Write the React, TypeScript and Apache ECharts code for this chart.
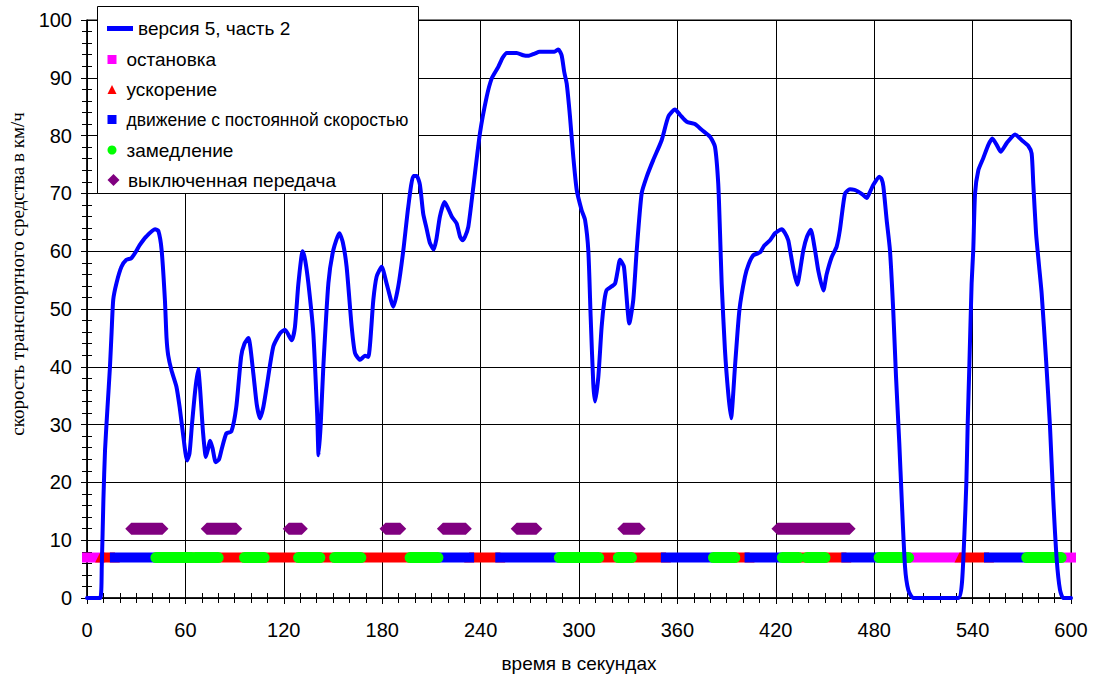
import React, { useEffect, useRef } from 'react';
import * as echarts from 'echarts';

// ---- data ----
const X_MIN = 0;
const X_MAX = 600;
const X_STEP = 60;
const Y_MIN = 0;
const Y_MAX = 100;
const Y_STEP = 10;

const SERIES_SPEED = 'версия 5, часть 2';
const SERIES_STOP = 'остановка';
const SERIES_ACCEL = 'ускорение';
const SERIES_CONST = 'движение с постоянной скоростью';
const SERIES_DECEL = 'замедление';
const SERIES_OFFGEAR = 'выключенная передача';

const X_NAME = 'время в секундах';
const Y_NAME = 'скорость транспортного средства в км/ч';

// [time s, speed km/h]
const SPEED_POINTS: [number, number][] = [
  [0, 0], [8, 0], [9, 5.4], [10, 17], [11, 25.6], [12.5, 33], [14, 40], [15, 46], [16, 51.6], [18, 54.5],
  [21, 57.3], [24, 58.5], [27, 58.8], [30, 60], [32, 61], [36, 62.5], [41.5, 63.8], [43.5, 63.5], [45.5, 60.2],
  [47.5, 51.6], [48.5, 45], [49.5, 42], [51.5, 39.4], [54.5, 36.6], [56.5, 33], [58.5, 28.5], [61, 23.8],
  [62.5, 25], [64, 30], [66, 36], [67.8, 39.6], [69, 36], [70.8, 28.5], [72.5, 24.4], [74, 26], [75, 27.2],
  [76.5, 26], [78.5, 23.5], [80.5, 24], [82, 25.6], [85, 28.5], [88, 28.8], [91, 33], [94, 41.8], [96, 44],
  [98.4, 45], [101.4, 38.9], [103.5, 33.5], [105.5, 31.1], [107.5, 33], [109.6, 36.6], [113.6, 43.5],
  [117.7, 45.8], [120.7, 46.4], [124.8, 44.6], [126.8, 46.9], [128.9, 54.4], [131.5, 60], [133, 58.5],
  [135, 54.4], [138, 45.8], [140.4, 31.4], [141.2, 24.7], [142.5, 30], [144.1, 40], [147.2, 54.5],
  [150.2, 60.2], [153.9, 63.1], [156, 61.5], [158.3, 57.3], [161.4, 46.9], [163.4, 42.4], [166.5, 41.2],
  [169.5, 41.9], [171.5, 41.7], [174.6, 51.6], [176.6, 55.6], [179.7, 57.3], [182.7, 54.4], [186.8, 50.4],
  [189.8, 53.9], [192.9, 60.2], [195.9, 67.7], [199, 73], [201, 73], [203, 71.5], [205, 66.5], [207, 64],
  [209, 61.5], [211.4, 60.3], [213, 62], [215.2, 66], [218, 68.5], [220, 67.5], [222.4, 66], [225.4, 64.8],
  [227.5, 62.5], [229, 61.9], [230.5, 62.5], [232.5, 64.2], [235.6, 71.2], [239.6, 80.4], [243.7, 86.7],
  [246.8, 89.9], [250.8, 91.9], [253.5, 93.5], [256, 94.3], [262, 94.3], [266, 93.9], [269, 93.8],
  [273, 94.2], [276, 94.5], [282, 94.5], [285, 94.5], [287.4, 94.9], [289.4, 93.9], [291, 91], [292.5, 89],
  [294.5, 83.3], [296.5, 76.4], [298.6, 70.6], [301.6, 67.1], [303.7, 65.4], [305.7, 60], [307.1, 48.7],
  [308.7, 37.1], [309.8, 34], [311.8, 38.3], [313.8, 46.9], [315.5, 51.5], [316.9, 53.3], [319.9, 53.9],
  [322, 54.4], [323.5, 56.5], [325, 58.5], [327.4, 57.3], [330.7, 47.5], [333.1, 51.6], [335.2, 60.2],
  [338.2, 70], [341.3, 72.9], [345.3, 75.8], [350.4, 79.2], [354.5, 83.3], [358.5, 84.5], [361.6, 83.6],
  [365.7, 82.4], [370.7, 82], [374.8, 81], [379.9, 79.8], [382.9, 78.1], [384.9, 71.7], [386, 63.1],
  [387, 54.4], [389, 42.9], [391, 35.4], [392.7, 31.1], [395.1, 40], [397.8, 49.8], [401.2, 55.6],
  [403.5, 57.8], [406.3, 59.3], [410.4, 59.8], [413, 61], [416.5, 61.9], [419.5, 63.1], [423.6, 63.8],
  [425.5, 63.2], [427.6, 61.9], [428.7, 60.2], [431, 56.5], [433.1, 54.2], [435, 57], [436.8, 60.2],
  [439, 62.5], [441.3, 63.7], [443.9, 60.2], [446, 56.5], [449, 53.2], [451, 56], [454.1, 59], [457.1, 60.8],
  [459.1, 63.7], [462.2, 70], [465.2, 70.7], [468, 70.6], [470.3, 70.3], [473, 69.8], [475.4, 69.2],
  [477, 70], [479.5, 71.5], [483.1, 72.9], [484.5, 72.5], [485.6, 71.2], [487.6, 65.4], [489.6, 60.2],
  [491.6, 49.8], [493.3, 38.3], [495.3, 26.8], [496.8, 17], [498.8, 5.4], [500.8, 1.4], [503.9, 0],
  [531.3, 0], [533.5, 2.6], [535, 11], [536.2, 20], [537, 30], [538, 40], [539.4, 54.4], [540.4, 60.2],
  [541.5, 70], [543.5, 74], [546.5, 76.1], [549.6, 78.4], [552, 79.5], [554.7, 78.4], [557.1, 77.2],
  [560.8, 78.7], [565.9, 80.2], [570, 79.2], [574, 78.2], [576, 76.9], [577, 71.7], [578.7, 63.1],
  [580.5, 57.5], [582.1, 52.7], [584.8, 41.2], [587.2, 29.6], [589.2, 17], [591.3, 6.6], [593.3, 1.4],
  [595.3, 0], [600, 0],
];

// phase rows (level on the speed axis where the phase marks are drawn)
const PHASE_ROW = 7;
const OFFGEAR_ROW = 12;

// [start s, end s]
const STOP_INTERVALS: [number, number][] = [[0, 8], [500, 532], [594, 600]];
const ACCEL_INTERVALS: [number, number][] = [
  [8, 17], [64, 66], [80, 96], [108, 129], [142, 151], [167, 197], [233, 252], [312, 324], [332, 353],
  [395, 404], [434, 439], [450, 463], [532, 550],
];
const CONST_INTERVALS: [number, number][] = [
  [17, 42], [214, 233], [252, 288], [353, 382], [404, 424], [463, 483], [550, 573],
];
const DECEL_INTERVALS: [number, number][] = [
  [42, 64], [66, 80], [96, 108], [129, 142], [151, 167], [197, 214], [288, 312], [324, 332], [382, 395],
  [424, 434], [439, 450], [483, 501], [573, 594],
];
const OFFGEAR_INTERVALS: [number, number][] = [
  [27, 46], [73, 91], [123, 131], [182, 191], [217, 231], [262, 274], [327, 337], [421, 465],
];

const COLORS = {
  speed: '#0000FF',
  stop: '#FF00FF',
  accel: '#FF0000',
  constant: '#0000FF',
  decel: '#00FF00',
  offgear: '#800080',
};

const SANS = "'Liberation Sans', Arial, sans-serif";
const SERIF = "'Liberation Serif', 'Times New Roman', serif";

type Cap = 'square' | 'round' | 'triangle' | 'hex';

function phaseSeries(name: string, color: string, intervals: [number, number][], row: number, cap: Cap, half: number) {
  return {
    type: 'custom',
    name,
    data: intervals.map(([a, b]) => [a, b, row]),
    encode: { x: [0, 1], y: 2 },
    itemStyle: { color },
    silent: true,
    renderItem: (_params: any, api: any) => {
      const s = api.coord([api.value(0), api.value(2)]);
      const e = api.coord([api.value(1), api.value(2)]);
      const x1 = s[0];
      const x2 = e[0];
      const y = s[1];
      const h = half;
      if (cap === 'triangle') {
        return {
          type: 'polygon',
          shape: { points: [[x1 - h, y + h], [x1, y - h], [x2, y - h], [x2 + h, y + h]] },
          style: { fill: color },
        };
      }
      if (cap === 'hex') {
        return {
          type: 'polygon',
          shape: { points: [[x1 - h, y], [x1, y - h], [x2, y - h], [x2 + h, y], [x2, y + h], [x1, y + h]] },
          style: { fill: color },
        };
      }
      return {
        type: 'rect',
        shape: { x: x1 - h, y: y - h, width: x2 - x1 + 2 * h, height: 2 * h, r: cap === 'round' ? h : 0 },
        style: { fill: color },
      };
    },
  };
}

const LINE_ICON = 'path://M0,0L26,0L26,5L0,5Z';
const SQUARE_ICON = 'path://M0,0L10,0L10,10L0,10Z';
const TRIANGLE_ICON = 'path://M5,0L10,10L0,10Z';
const DIAMOND_ICON = 'path://M6,0L12,6L6,12L0,6Z';

function legendItem(name: string, top: number, left: number, itemWidth: number, itemHeight: number, icon?: string, fontSize = 19) {
  const d: any = { name };
  if (icon) d.icon = icon;
  return {
    data: [d],
    left,
    top,
    padding: 0,
    itemWidth,
    itemHeight,
    selectedMode: false,
    textStyle: { fontFamily: SANS, fontSize, color: '#000' },
  };
}

export default function App() {
  const ref = useRef<HTMLDivElement>(null);

  useEffect(() => {
    if (!ref.current) return;
    const chart = echarts.init(ref.current, undefined, { renderer: 'svg' });

    const axisBase = {
      type: 'value',
      gridIndex: 0,
    };

    const option: any = {
      animation: false,
      backgroundColor: '#fff',
      grid: {
        left: 87,
        top: 20,
        width: 984,
        height: 578,
        show: true,
        borderColor: '#000',
        borderWidth: 1,
        backgroundColor: 'transparent',
      },
      xAxis: [
        {
          ...axisBase,
          min: X_MIN,
          max: X_MAX,
          interval: X_STEP,
          position: 'bottom',
          name: X_NAME,
          nameLocation: 'middle',
          nameGap: 56,
          nameTextStyle: { fontFamily: SANS, fontSize: 19, color: '#000' },
          axisLine: { show: true, onZero: false, lineStyle: { color: '#000', width: 1.5 } },
          axisTick: { show: true, length: 6, lineStyle: { color: '#000', width: 1 } },
          minorTick: { show: true, splitNumber: 6, length: 5, lineStyle: { color: '#000', width: 1 } },
          axisLabel: { fontFamily: SANS, fontSize: 20, color: '#000', margin: 22 },
          splitLine: { show: true, lineStyle: { color: '#000', width: 1 } },
        },
        {
          ...axisBase,
          min: X_MIN,
          max: X_MAX,
          interval: X_STEP,
          position: 'bottom',
          axisLine: { show: false },
          axisTick: { show: true, inside: true, length: 6, lineStyle: { color: '#000', width: 1 } },
          minorTick: { show: true, splitNumber: 6, length: 5, lineStyle: { color: '#000', width: 1 } },
          axisLabel: { show: false },
          splitLine: { show: false },
        },
      ],
      yAxis: [
        {
          ...axisBase,
          min: Y_MIN,
          max: Y_MAX,
          interval: Y_STEP,
          position: 'left',
          name: Y_NAME,
          nameLocation: 'middle',
          nameGap: 60,
          nameRotate: 90,
          nameTextStyle: { fontFamily: SERIF, fontSize: 19, color: '#000', padding: [0, 0, 0, 70] },
          axisLine: { show: true, onZero: false, lineStyle: { color: '#000', width: 1.5 } },
          axisTick: { show: true, length: 6, lineStyle: { color: '#000', width: 1 } },
          minorTick: { show: true, splitNumber: 5, length: 5, lineStyle: { color: '#000', width: 1 } },
          axisLabel: { fontFamily: SANS, fontSize: 20, color: '#000', margin: 15 },
          splitLine: { show: true, lineStyle: { color: '#000', width: 1 } },
        },
        {
          ...axisBase,
          min: Y_MIN,
          max: Y_MAX,
          interval: Y_STEP,
          position: 'left',
          axisLine: { show: false },
          axisTick: { show: true, inside: true, length: 6, lineStyle: { color: '#000', width: 1 } },
          minorTick: { show: true, splitNumber: 5, length: 5, lineStyle: { color: '#000', width: 1 } },
          axisLabel: { show: false },
          splitLine: { show: false },
        },
      ],
      graphic: [
        {
          type: 'rect',
          z: 1,
          silent: true,
          shape: { x: 97.5, y: 6.5, width: 321, height: 187 },
          style: { fill: '#fff', stroke: '#000', lineWidth: 1 },
        },
      ],
      legend: [
        legendItem(SERIES_SPEED, 19, 107, 26, 5, LINE_ICON),
        legendItem(SERIES_STOP, 50, 107.5, 19, 9, SQUARE_ICON),
        legendItem(SERIES_ACCEL, 80, 107.5, 19, 9, TRIANGLE_ICON),
        legendItem(SERIES_CONST, 110.5, 107.5, 19, 9, SQUARE_ICON, 17.5),
        legendItem(SERIES_DECEL, 140.5, 107.5, 19, 9, 'circle'),
        legendItem(SERIES_OFFGEAR, 170.5, 107.5, 19, 12, DIAMOND_ICON),
      ],
      series: [
        {
          type: 'line',
          name: SERIES_SPEED,
          data: SPEED_POINTS,
          symbol: 'none',
          smooth: 0.2,
          lineStyle: { color: COLORS.speed, width: 4, join: 'round', cap: 'round' },
          itemStyle: { color: COLORS.speed },
          z: 2,
        },
        phaseSeries(SERIES_STOP, COLORS.stop, STOP_INTERVALS, PHASE_ROW, 'square', 5),
        phaseSeries(SERIES_ACCEL, COLORS.accel, ACCEL_INTERVALS, PHASE_ROW, 'triangle', 5),
        phaseSeries(SERIES_CONST, COLORS.constant, CONST_INTERVALS, PHASE_ROW, 'square', 5),
        phaseSeries(SERIES_DECEL, COLORS.decel, DECEL_INTERVALS, PHASE_ROW, 'round', 5.5),
        phaseSeries(SERIES_OFFGEAR, COLORS.offgear, OFFGEAR_INTERVALS, OFFGEAR_ROW, 'hex', 6),
      ],
    };

    chart.setOption(option);
    return () => chart.dispose();
  }, []);

  return (
    <div
      ref={ref}
      style={{ position: 'fixed', left: 0, top: 0, width: 1099, height: 678, background: '#fff' }}
    />
  );
}
